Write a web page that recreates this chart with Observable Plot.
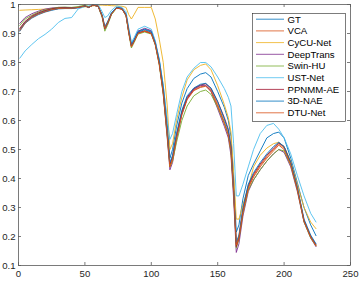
<!DOCTYPE html>
<html>
<head>
<meta charset="utf-8">
<script src="https://cdn.jsdelivr.net/npm/d3@7"></script>
<script src="https://cdn.jsdelivr.net/npm/@observablehq/plot@0.6"></script>
<style>
  html, body { margin: 0; padding: 0; background: #fff; }
  #chart { width: 360px; height: 282px; }
</style>
</head>
<body>
<div id="chart"></div>
<script>
// band positions sampled along the curves
const bands = [1,5,10,15,20,25,30,35,40,45,50,53,56,60,63,65,67,70,74,78,81,83,85,87,90,95,100,103,106,109,112,114,116,119,123,127,132,137,141,145,150,155,158,160,162,164,166,169,173,177,182,187,192,196,200,205,210,215,220,224];

const seriesNames = ["GT","VCA","CyCU-Net","DeepTrans","Swin-HU","UST-Net","PPNMM-AE","3D-NAE","DTU-Net"];
const seriesColors = ["#0072BD","#D95319","#EDB120","#7E2F8E","#77AC30","#4DBEEE","#A2142F","#0072BD","#D95319"];

const gt = [0.908,0.935,0.953,0.965,0.974,0.98,0.985,0.986,0.986,0.988,0.994,0.99,0.998,0.995,0.965,0.925,0.94,0.972,0.99,0.987,0.967,0.915,0.865,0.88,0.908,0.915,0.908,0.87,0.81,0.72,0.59,0.47,0.50,0.58,0.66,0.71,0.745,0.76,0.765,0.75,0.70,0.645,0.60,0.545,0.40,0.215,0.24,0.33,0.41,0.45,0.495,0.54,0.555,0.56,0.54,0.47,0.385,0.30,0.24,0.203];
const vca = [0.915,0.94,0.958,0.97,0.978,0.984,0.988,0.989,0.988,0.99,0.995,0.99,0.998,0.994,0.96,0.918,0.935,0.968,0.988,0.984,0.962,0.905,0.857,0.873,0.902,0.91,0.903,0.865,0.80,0.70,0.555,0.445,0.47,0.545,0.625,0.675,0.705,0.716,0.72,0.705,0.655,0.595,0.555,0.50,0.36,0.175,0.20,0.29,0.37,0.41,0.445,0.475,0.50,0.52,0.505,0.45,0.365,0.255,0.20,0.17];
const cycu = [0.98,0.981,0.982,0.983,0.984,0.986,0.987,0.988,0.989,0.99,0.992,0.993,0.995,0.998,0.998,0.997,0.997,0.996,0.995,0.994,0.99,0.965,0.95,0.965,0.99,0.99,0.99,0.95,0.88,0.80,0.65,0.50,0.52,0.60,0.68,0.74,0.775,0.79,0.795,0.775,0.72,0.655,0.61,0.56,0.42,0.26,0.26,0.31,0.37,0.44,0.48,0.505,0.52,0.525,0.51,0.46,0.38,0.30,0.25,0.227];
const deepTrans = [0.935,0.955,0.968,0.977,0.984,0.988,0.99,0.99,0.989,0.99,0.996,0.99,0.998,0.994,0.958,0.915,0.932,0.967,0.99,0.987,0.965,0.908,0.858,0.876,0.908,0.918,0.91,0.87,0.80,0.69,0.54,0.43,0.455,0.535,0.62,0.675,0.708,0.72,0.722,0.70,0.64,0.58,0.54,0.48,0.33,0.145,0.175,0.27,0.355,0.395,0.43,0.46,0.485,0.50,0.49,0.44,0.355,0.25,0.195,0.165];
const swinHU = [0.928,0.95,0.963,0.974,0.981,0.986,0.99,0.991,0.99,0.993,0.998,0.993,0.998,0.993,0.955,0.908,0.928,0.965,0.988,0.984,0.96,0.9,0.85,0.868,0.898,0.905,0.898,0.86,0.79,0.69,0.545,0.44,0.46,0.525,0.60,0.65,0.685,0.70,0.705,0.69,0.645,0.59,0.55,0.49,0.35,0.16,0.19,0.28,0.36,0.395,0.43,0.46,0.485,0.50,0.495,0.445,0.36,0.25,0.195,0.168];
const ustNet = [0.815,0.84,0.862,0.882,0.897,0.915,0.938,0.952,0.955,0.985,0.993,0.995,1.0,1.0,0.975,0.955,0.96,0.98,0.995,0.99,0.975,0.92,0.87,0.885,0.915,0.925,0.915,0.875,0.81,0.72,0.60,0.535,0.555,0.62,0.70,0.75,0.78,0.80,0.80,0.785,0.75,0.71,0.68,0.65,0.52,0.34,0.34,0.38,0.44,0.50,0.555,0.583,0.59,0.57,0.54,0.485,0.41,0.34,0.28,0.25];
const ppnmm = [0.918,0.942,0.96,0.971,0.979,0.985,0.988,0.989,0.988,0.99,0.995,0.99,0.998,0.994,0.96,0.917,0.934,0.968,0.988,0.984,0.962,0.905,0.856,0.872,0.902,0.908,0.9,0.862,0.795,0.70,0.555,0.45,0.475,0.55,0.63,0.68,0.71,0.722,0.727,0.71,0.665,0.61,0.57,0.51,0.36,0.165,0.195,0.29,0.375,0.415,0.45,0.48,0.505,0.522,0.51,0.455,0.365,0.255,0.20,0.172];
const nae3d = [0.912,0.938,0.956,0.968,0.976,0.982,0.986,0.987,0.987,0.99,0.995,0.99,0.998,0.994,0.962,0.92,0.937,0.97,0.99,0.986,0.965,0.91,0.86,0.876,0.905,0.913,0.905,0.867,0.805,0.71,0.565,0.455,0.48,0.555,0.635,0.685,0.712,0.725,0.728,0.712,0.665,0.605,0.565,0.505,0.365,0.18,0.205,0.30,0.38,0.42,0.455,0.485,0.51,0.525,0.51,0.455,0.37,0.26,0.205,0.175];
const dtuNet = [0.91,0.936,0.955,0.967,0.975,0.982,0.986,0.987,0.987,0.99,0.995,0.99,0.998,0.994,0.96,0.918,0.936,0.968,0.988,0.984,0.962,0.905,0.855,0.872,0.9,0.908,0.9,0.862,0.795,0.695,0.55,0.44,0.465,0.54,0.62,0.672,0.703,0.714,0.718,0.70,0.65,0.59,0.55,0.495,0.355,0.17,0.195,0.285,0.365,0.405,0.44,0.47,0.495,0.515,0.50,0.447,0.362,0.252,0.198,0.168];

const xTicks = [0,50,100,150,200,250];
const yTicks = [0.1,0.2,0.3,0.4,0.5,0.6,0.7,0.8,0.9,1];
const yTickLabels = ["0.1","0.2","0.3","0.4","0.5","0.6","0.7","0.8","0.9","1"];

const seriesValues = [gt, vca, cycu, deepTrans, swinHU, ustNet, ppnmm, nae3d, dtuNet];
const rows = [];
seriesValues.forEach((vals, s) => {
  vals.forEach((v, i) => rows.push({band: bands[i], value: v, series: s}));
});

const axisColor = "#5a5a5a";
const fontFamily = "'Liberation Sans', Arial, Helvetica, sans-serif";

const chart = Plot.plot({
  width: 360,
  height: 282,
  marginTop: 4,
  marginRight: 10,
  marginBottom: 17,
  marginLeft: 18,
  style: {fontFamily, fontSize: "9.6px", color: "#262626", background: "#fff", overflow: "visible"},
  x: {domain: [0, 250]},
  y: {domain: [0.1, 1]},
  marks: [
    Plot.line(rows, {
      x: "band", y: "value", z: "series",
      stroke: d => seriesColors[d.series],
      strokeWidth: 0.9
    }),
    Plot.frame({stroke: axisColor, strokeWidth: 0.8}),
    Plot.tickX(xTicks, {x: d => d, stroke: axisColor, strokeWidth: 0.8, insetTop: 258}),
    Plot.tickX(xTicks, {x: d => d, stroke: axisColor, strokeWidth: 0.8, insetBottom: 258}),
    Plot.tickY(yTicks, {y: d => d, stroke: axisColor, strokeWidth: 0.8, insetRight: 329}),
    Plot.tickY(yTicks, {y: d => d, stroke: axisColor, strokeWidth: 0.8, insetLeft: 329}),
    Plot.axisX({ticks: xTicks, tickSize: 0, tickPadding: 5, tickFormat: d => String(d), label: null}),
    Plot.axisY({ticks: yTicks, tickSize: 0, tickPadding: 3, tickFormat: (d, i) => yTickLabels[i], label: null})
  ]
});

document.getElementById("chart").appendChild(chart);

// legend (MATLAB style box, top-right)
const svg = d3.select(chart);
const lg = svg.append("g").attr("font-family", fontFamily).attr("font-size", "9.6px").attr("text-anchor", "start");
const lx = 252.5, ly = 13.5, lw = 93, lh = 108, rowH = 11.7, firstY = 19.2;
lg.append("rect").attr("x", lx).attr("y", ly).attr("width", lw).attr("height", lh)
  .attr("fill", "#fff").attr("stroke", "#262626").attr("stroke-width", 0.6);
seriesNames.forEach((name, i) => {
  const y = firstY + i * rowH;
  lg.append("line").attr("x1", 256).attr("x2", 284).attr("y1", y).attr("y2", y)
    .attr("stroke", seriesColors[i]).attr("stroke-width", 0.8);
  lg.append("text").attr("x", 287.5).attr("y", y).attr("dy", "0.35em")
    .attr("text-anchor", "start").attr("fill", "#000").text(name);
});
</script>
</body>
</html>
